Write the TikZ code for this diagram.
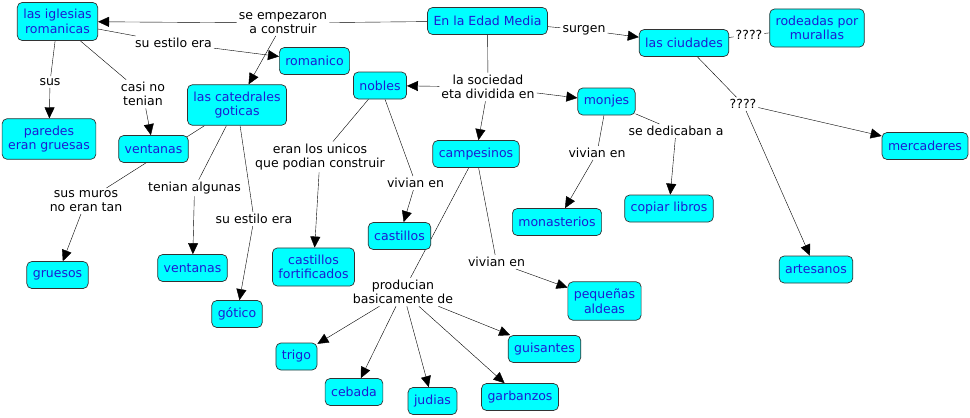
\documentclass[tikz,border=0pt]{standalone}
\usepackage{fontspec}
\setmainfont{DejaVu Sans}
\usetikzlibrary{arrows.meta,backgrounds}
\definecolor{celeste}{RGB}{0,255,255}
\definecolor{azultexto}{RGB}{28,28,210}

\tikzset{
  concepto/.style={draw=black!80, fill=celeste, text=azultexto, rounded corners=5pt,
    line width=0.7pt, align=center, inner xsep=6pt, inner ysep=7pt, minimum height=27pt,
    font=\fontsize{12.5}{14.5}\selectfont},
  enlace/.style={align=center, inner sep=2pt, font=\fontsize{12.5}{14.5}\selectfont},
  flecha/.style={-{Triangle[length=11pt,width=10pt]}},
}

\begin{document}
\begin{tikzpicture}[x=1pt, y=-1pt]
		%%%%% START %%%%%
		\useasboundingbox (0, 0) rectangle (970, 418);
		
		\node[concepto] (iglesias) at (57.5, 21.5) {las iglesias\\romanicas};
		\node[concepto] (edad) at (487.5, 21) {En la Edad Media};
		\node[concepto] (romanico) at (314.5, 61) {romanico};
		\node[concepto] (nobles) at (380, 85.5) {nobles};
		\node[concepto] (catedrales) at (237, 105) {las catedrales\\goticas};
		\node[concepto] (paredes) at (49, 139) {paredes\\eran gruesas};
		\node[concepto] (ventanasA) at (153.5, 149) {ventanas};
		\node[concepto] (campesinos) at (476, 154) {campesinos};
		\node[concepto] (monjes) at (606.5, 101.5) {monjes};
		\node[concepto] (ciudades) at (684, 43) {las ciudades};
		\node[concepto] (rodeadas) at (817, 28) {rodeadas por\\murallas};
		\node[concepto] (mercaderes) at (925, 146) {mercaderes};
		\node[concepto] (copiar) at (669, 208.5) {copiar libros};
		\node[concepto] (monasterios) at (557, 222) {monasterios};
		\node[concepto] (artesanos) at (816, 269.5) {artesanos};
		\node[concepto] (aldeas) at (604.5, 301) {pequeñas\\aldeas};
		\node[concepto] (castillos) at (399.5, 236) {castillos};
		\node[concepto] (fortificados) at (313.5, 267) {castillos\\fortificados};
		\node[concepto] (gruesos) at (57.5, 275) {gruesos};
		\node[concepto] (ventanasB) at (192.5, 268) {ventanas};
		\node[concepto] (gotico) at (237, 314) {gótico};
		\node[concepto] (trigo) at (296.5, 356.5) {trigo};
		\node[concepto] (cebada) at (354, 392) {cebada};
		\node[concepto] (judias) at (432.5, 401) {judias};
		\node[concepto] (garbanzos) at (520, 397) {garbanzos};
		\node[concepto] (guisantes) at (544.5, 349) {guisantes};
		
		% link words
		\node[enlace] (empezaron) at (283, 23) {se empezaron\\a construir};
		\node[enlace] (estiloA) at (173.5, 43) {su estilo era};
		\node[enlace] (sus) at (50, 82) {sus};
		\node[enlace] (casino) at (143, 94) {casi no\\tenian};
		\node[enlace] (surgen) at (584, 30) {surgen};
		\node[enlace] (dudaA) at (749, 35) {????};
		\node[enlace] (dudaB) at (743, 104) {????};
		\node[enlace] (sociedad) at (488, 87) {la sociedad\\eta dividida en};
		\node[enlace] (dedicaban) at (676, 131) {se dedicaban a};
		\node[enlace] (vivianM) at (597, 153) {vivian en};
		\node[enlace] (unicos) at (320, 157) {eran los unicos\\que podian construir};
		\node[enlace] (vivianN) at (415.5, 183) {vivian en};
		\node[enlace] (muros) at (86, 201) {sus muros\\no eran tan};
		\node[enlace] (algunas) at (194.5, 188) {tenian algunas};
		\node[enlace] (estiloB) at (254, 219) {su estilo era};
		\node[enlace] (vivianC) at (496.5, 262) {vivian en};
		\node[enlace] (producian) at (403, 292) {producian\\basicamente de};
		
		\begin{scope}[on background layer, line width=0.7pt]
		\draw (edad) -- (empezaron);
		\draw[flecha] (empezaron) -- (iglesias);
		\draw[flecha] (empezaron) -- (catedrales);
		
		\draw (iglesias) -- (estiloA);
		\draw[flecha] (estiloA) -- (romanico);
		\draw (iglesias) -- (sus);
		\draw[flecha] (sus) -- (paredes);
		\draw (iglesias) -- (casino);
		\draw[flecha] (casino) -- (ventanasA);
		
		\draw (edad) -- (surgen);
		\draw[flecha] (surgen) -- (ciudades);
		\draw (ciudades) -- (dudaA) -- (rodeadas);
		\draw (ciudades) -- (dudaB);
		\draw[flecha] (dudaB) -- (mercaderes);
		\draw[flecha] (dudaB) -- (artesanos);
		
		\draw (edad) -- (sociedad);
		\draw[flecha] (sociedad) -- (nobles);
		\draw[flecha] (sociedad) -- (monjes);
		\draw[flecha] (sociedad) -- (campesinos);
		
		\draw (monjes) -- (dedicaban);
		\draw[flecha] (dedicaban) -- (copiar);
		\draw (monjes) -- (vivianM);
		\draw[flecha] (vivianM) -- (monasterios);
		
		\draw (nobles) -- (unicos);
		\draw[flecha] (unicos) -- (fortificados);
		\draw (nobles) -- (vivianN);
		\draw[flecha] (vivianN) -- (castillos);
		
		\draw (catedrales) -- (muros);
		\draw[flecha] (muros) -- (gruesos);
		\draw (catedrales) -- (algunas);
		\draw[flecha] (algunas) -- (ventanasB);
		\draw (catedrales) -- (estiloB);
		\draw[flecha] (estiloB) -- (gotico);
		
		\draw (campesinos) -- (vivianC);
		\draw[flecha] (vivianC) -- (aldeas);
		\draw (campesinos) -- (producian);
		\foreach \fruto in {trigo, cebada, judias, garbanzos, guisantes}
			\draw[flecha] (producian) -- (\fruto);
		\end{scope}
		%%%%% END %%%%%
\end{tikzpicture}
\end{document}
